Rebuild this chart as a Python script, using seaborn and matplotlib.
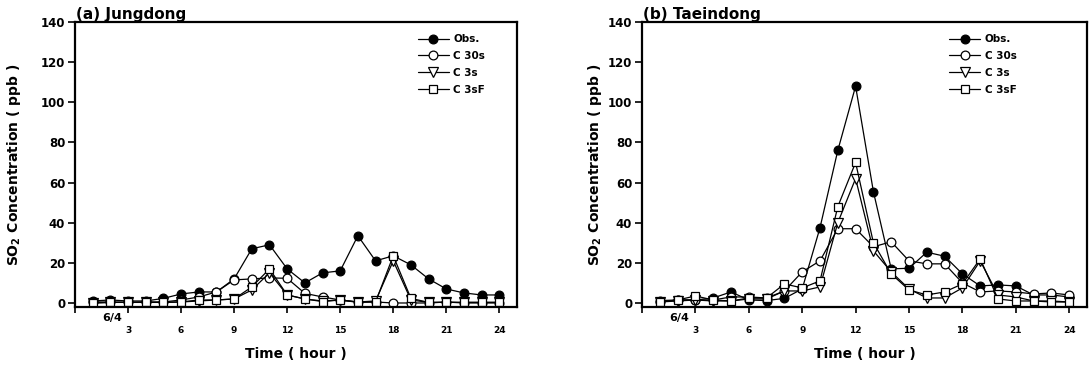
import matplotlib
matplotlib.use("Agg")
import matplotlib.pyplot as plt
import seaborn as sns
import numpy as np

hours = list(range(1, 25))

# (a) Jungdong
a_obs = [1, 1.5, 1, 1, 2.3, 4.5, 5.5, 5.5, 12, 27, 29, 17, 10, 15, 16, 33.5, 21, 23.5, 19, 12, 7, 5, 4, 4]
a_c30s = [0.5, 0.5, 0.3, 0.5, 0.5, 1.5, 3, 5.5, 11.5, 12, 12.5, 12.3, 4.8, 3, 1.5, 0.5, 0.5, 0, 0, 0, 0.5, 0, 0, 0]
a_c3s = [0, 0.3, 0.3, 0.3, 0.3, 0.5, 1, 1.5, 2, 6.5, 15, 4, 2, 1, 1.5, 0.5, 1, 21, 1.5, 0.3, 0.3, 0.3, 0.3, 0.3]
a_c3sf = [0, 0.3, 0.3, 0.3, 0.3, 0.5, 1.5, 1.5, 2, 8, 17, 4, 2, 0.7, 1.5, 0.3, 0.5, 23.5, 2.3, 0.3, 0.3, 0.3, 0.3, 0.3]

# (b) Taeindong
b_obs = [1.2, 1.5, 1.5, 2.5, 5.5, 1.5, 1.2, 2.3, 7, 37.5, 76, 108, 55.5, 17, 17.3, 25.3, 23.3, 14.5, 8.5, 9, 8.5, 4, 4, 3]
b_c30s = [0.5, 1.5, 1.5, 1.5, 3, 3, 2.5, 6, 15.5, 21, 37, 37, 28, 30.5, 21, 19.5, 19.5, 10, 5.5, 6, 5.5, 4.5, 5, 4]
b_c3s = [0.5, 1, 1.5, 1, 1, 2, 2, 6, 6, 8, 40, 62, 26, 15.5, 7, 2.5, 2.5, 7.5, 21, 4, 3, 1, 1, 0.5]
b_c3sf = [0.5, 1.5, 3.5, 1.5, 1, 2.5, 2.5, 9.5, 7.5, 11, 48, 70, 30, 14.5, 6.5, 4, 5.5, 9.5, 22, 2, 1, 1, 0.5, 0.5]

series_labels = ["Obs.", "C 30s", "C 3s", "C 3sF"]
x_ticks = [0, 3, 6, 9, 12, 15, 18, 21, 24]
x_ticklabels = ["", "3", "6", "9", "12", "15", "18", "21", "24"]
y_ticks = [0, 20, 40, 60, 80, 100, 120, 140]
titles = ["(a) Jungdong", "(b) Taeindong"]

sns.set_style("ticks")
plt.rcParams["font.family"] = ["DejaVu Sans"]
plt.rcParams["font.weight"] = "bold"
plt.rcParams["text.color"] = "black"
plt.rcParams["axes.labelcolor"] = "black"
plt.rcParams["xtick.color"] = "black"
plt.rcParams["ytick.color"] = "black"
plt.rcParams["mathtext.fontset"] = "custom"
plt.rcParams["mathtext.rm"] = "DejaVu Sans:bold"
plt.rcParams["mathtext.bf"] = "DejaVu Sans:bold"
plt.rcParams["mathtext.it"] = "DejaVu Sans:bold"

fig = plt.figure(figsize=(10.9, 3.68), dpi=100)
W, H = 1090, 368
panels = [
    dict(left=75, right=517, data=[a_obs, a_c30s, a_c3s, a_c3sf], leg_x=0.775, ylab_x=23),
    dict(left=642, right=1087, data=[b_obs, b_c30s, b_c3s, b_c3sf], leg_x=0.69, ylab_x=604),
]
top_px, bot_px = 22, 307

styles = [
    dict(marker="o", markerfacecolor="black"),
    dict(marker="o", markerfacecolor="white"),
    dict(marker="v", markerfacecolor="white"),
    dict(marker="s", markerfacecolor="white"),
]

for i, p in enumerate(panels):
    ax = fig.add_axes([p["left"] / W, 1 - bot_px / H, (p["right"] - p["left"]) / W, (bot_px - top_px) / H])
    for vals, lab, st in zip(p["data"], series_labels, styles):
        ms = 6.3 if st["marker"] != "v" else 7
        sns.lineplot(x=hours, y=vals, ax=ax, color="black", linewidth=0.9,
                     marker=st["marker"], markersize=ms,
                     markerfacecolor=st["markerfacecolor"], markeredgecolor="black",
                     markeredgewidth=0.9, label=lab)
    ax.set_xlim(0, 25)
    ax.set_ylim(-2, 140)
    ax.set_xticks(x_ticks)
    ax.set_xticklabels(x_ticklabels, fontsize=6.5, fontweight="bold")
    ax.set_yticks(y_ticks)
    ax.set_yticklabels([str(v) for v in y_ticks], fontsize=8.5, fontweight="bold")
    ax.tick_params(axis="x", direction="out", length=4, width=1.2, pad=10, colors="black")
    ax.tick_params(axis="y", direction="out", length=5, width=1.2, pad=2, colors="black")
    for s in ax.spines.values():
        s.set_visible(True)
        s.set_linewidth(1.6)
        s.set_color("black")
    ax.set_xlabel("Time ( hour )", fontsize=10, fontweight="bold", labelpad=8, color="black")
    ax.set_ylabel("SO$_2$ Concentration ( ppb )", fontsize=10, fontweight="bold", color="black")
    ax.yaxis.set_label_coords((p["ylab_x"] - p["left"]) / (p["right"] - p["left"]), 0.5)
    ax.text(2.1, -0.02, "6/4", transform=ax.get_xaxis_transform(), ha="center", va="top",
            fontsize=8, fontweight="bold", color="black")
    ax.set_title(titles[i], loc="left", fontsize=11, fontweight="bold", pad=1, x=0.002, color="black")
    leg = ax.legend(loc="upper left", bbox_to_anchor=(p["leg_x"], 0.957), frameon=False,
                    prop=dict(weight="bold", size=7.5), handlelength=3.0, handletextpad=0.45,
                    labelspacing=0.65, borderpad=0, borderaxespad=0)
    for t in leg.get_texts():
        t.set_color("black")

fig.savefig("out.png", dpi=100)
